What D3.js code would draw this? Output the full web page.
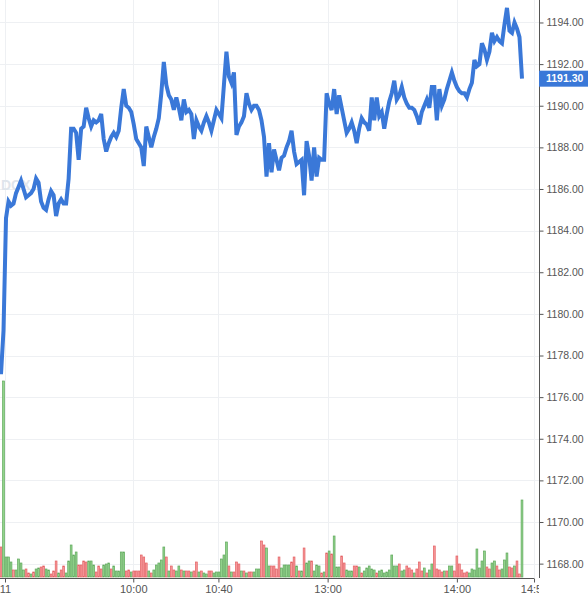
<!DOCTYPE html>
<html>
<head>
<meta charset="utf-8">
<script src="https://cdn.jsdelivr.net/npm/d3@7"></script>
<style>
  body { margin: 0; background: #fff; }
  svg { display: block; font-family: "Liberation Sans", Arial, sans-serif; }
</style>
</head>
<body>
<svg width="588" height="596"></svg>
<script>
// price per bar (intraday)
const prices = [
  1177.1, 1179.2, 1184.6, 1185.4, 1185.2, 1185.3, 1185.8, 1186.1, 1186.4, 1186.0,
  1185.6, 1185.7, 1185.8, 1186.0, 1186.5, 1186.3, 1185.4, 1185.1, 1185.0, 1185.5,
  1185.9, 1185.7, 1184.7, 1185.3, 1185.5, 1185.3, 1185.3, 1186.5, 1188.9, 1188.9,
  1188.7, 1187.4, 1188.9, 1189.0, 1189.9, 1189.4, 1189.0, 1189.3, 1189.2, 1189.3,
  1189.6, 1188.4, 1187.8, 1188.2, 1188.5, 1188.7, 1188.5, 1188.8, 1189.9, 1190.8,
  1190.0, 1189.9, 1189.7, 1189.1, 1188.4, 1188.2, 1188.0, 1187.1, 1189.0, 1188.5,
  1188.0, 1188.5, 1188.9, 1189.4, 1190.6, 1192.1, 1191.0, 1190.5, 1190.3, 1189.8,
  1190.4, 1189.9, 1189.3, 1190.3, 1189.7, 1189.8, 1189.6, 1188.4, 1189.3, 1189.0,
  1188.8, 1189.2, 1189.5, 1189.2, 1188.8, 1189.3, 1189.8, 1189.6, 1189.4, 1191.0,
  1192.6, 1191.4, 1191.1, 1191.6, 1188.6, 1189.0, 1189.2, 1189.5, 1190.6, 1190.1,
  1189.8, 1190.0, 1190.0, 1189.8, 1189.3, 1188.5, 1186.6, 1188.2, 1186.8, 1187.9,
  1187.4, 1186.9, 1187.5, 1187.6, 1188.0, 1188.3, 1188.8, 1187.8, 1187.2, 1187.3,
  1187.4, 1185.7, 1188.3, 1187.6, 1186.4, 1188.0, 1186.6, 1187.5, 1187.4, 1187.4,
  1190.6, 1190.1, 1189.8, 1190.8, 1189.6, 1190.5, 1189.9, 1189.3, 1188.7, 1188.9,
  1189.2, 1188.8, 1188.2, 1188.9, 1189.4, 1189.2, 1189.1, 1188.8, 1190.4, 1189.3,
  1190.4, 1189.5, 1189.7, 1188.9, 1189.6, 1190.2, 1190.6, 1191.2, 1190.3, 1190.5,
  1190.9, 1190.4, 1190.1, 1189.9, 1189.9, 1189.8, 1189.5, 1189.1, 1189.7, 1190.0,
  1190.3, 1189.9, 1190.9, 1190.9, 1189.3, 1190.8, 1190.0, 1190.3, 1190.8, 1191.2,
  1191.6, 1191.2, 1190.9, 1190.7, 1190.6, 1190.6, 1190.4, 1190.8, 1191.1, 1192.2,
  1191.9, 1192.0, 1193.0, 1192.7, 1192.2, 1192.6, 1193.5, 1193.1, 1193.3, 1193.1,
  1193.0, 1193.9, 1194.7, 1193.6, 1193.5, 1194.0, 1193.7, 1193.3, 1191.3
];

// volume per bar
const volumes = [
  30, 196, 20, 20, 15, 7, 7, 18, 14, 7,
  8, 4, 3, 5, 8, 9, 10, 11, 8, 7,
  3, 6, 16, 4, 7, 11, 4, 16, 32, 22,
  25, 12, 12, 16, 15, 16, 16, 12, 5, 11,
  8, 12, 13, 14, 8, 11, 6, 6, 25, 25,
  6, 7, 5, 6, 6, 6, 22, 20, 14, 6,
  4, 7, 12, 14, 17, 30, 20, 6, 11, 7,
  6, 11, 7, 6, 6, 6, 5, 6, 15, 5,
  6, 4, 3, 6, 6, 4, 5, 5, 18, 22,
  35, 11, 5, 5, 15, 13, 6, 6, 4, 5,
  5, 5, 8, 8, 36, 32, 29, 11, 11, 11,
  8, 20, 9, 12, 12, 12, 15, 20, 11, 6,
  6, 29, 14, 16, 16, 6, 12, 11, 4, 5,
  24, 26, 23, 41, 10, 10, 21, 14, 7, 6,
  6, 11, 11, 10, 4, 6, 9, 11, 8, 7,
  4, 6, 7, 4, 5, 7, 22, 11, 11, 13,
  6, 7, 11, 9, 7, 4, 8, 15, 6, 9,
  4, 7, 13, 31, 8, 7, 5, 6, 6, 11,
  11, 6, 21, 13, 7, 4, 5, 4, 8, 7,
  28, 9, 16, 26, 10, 8, 14, 16, 11, 7,
  8, 17, 24, 10, 9, 11, 16, 3, 77
];

// 1 = up bar (green), -1 = down bar (red)
const volDir = [
  -1, 1, 1, 1, 1, -1, 1, 1, 1, 1,
  -1, -1, 1, -1, 1, 1, -1, -1, 1, 1,
  -1, -1, -1, 1, -1, -1, 1, 1, 1, 1,
  1, -1, -1, -1, -1, 1, 1, 1, -1, -1,
  -1, 1, 1, 1, -1, 1, 1, 1, 1, 1,
  -1, -1, 1, -1, -1, -1, -1, -1, -1, 1,
  -1, 1, 1, 1, 1, 1, -1, 1, -1, -1,
  1, 1, -1, 1, -1, -1, 1, -1, -1, 1,
  -1, 1, 1, -1, -1, 1, 1, 1, 1, 1,
  1, -1, 1, -1, -1, -1, 1, -1, 1, -1,
  -1, 1, 1, 1, -1, -1, 1, 1, -1, -1,
  -1, -1, 1, 1, 1, 1, -1, -1, 1, -1,
  1, -1, 1, 1, -1, 1, 1, 1, -1, 1,
  -1, 1, -1, 1, 1, 1, -1, -1, 1, 1,
  1, -1, -1, 1, -1, 1, 1, 1, 1, 1,
  -1, 1, 1, 1, 1, 1, 1, 1, 1, -1,
  1, 1, -1, -1, -1, 1, -1, -1, -1, 1,
  -1, 1, 1, -1, -1, -1, -1, 1, -1, 1,
  1, -1, -1, -1, -1, -1, -1, 1, 1, 1,
  1, 1, 1, 1, -1, -1, 1, 1, -1, -1,
  1, 1, 1, -1, -1, 1, -1, -1, 1
];

const priceTicks = [1168, 1170, 1172, 1174, 1176, 1178, 1180, 1182, 1184, 1186, 1188, 1190, 1192, 1194];
const timeTickPos = [1.6, 52.8, 86.8, 130.4, 182, 212.8];
const timeTickLabels = ['11', '10:00', '10:40', '13:00', '14:00', '14:50'];
const lastPrice = 1191.30;

const WIDTH = 588;
const HEIGHT = 596;
const PLOT_W = 539;
const PLOT_H = 578;

const svg = d3.select('svg');

const x = d3.scaleLinear().domain([0, prices.length - 1]).range([1, 522]);
const y = d3.scaleLinear().domain([1167.31, 1195.08]).range([PLOT_H, 0]);
const yVol = d3.scaleLinear().domain([0, 196]).range([577, 381]);

svg.append('defs').append('clipPath').attr('id', 'plot-clip')
    .append('rect').attr('x', 0).attr('y', 0).attr('width', PLOT_W).attr('height', PLOT_H);

// grid
const grid = svg.append('g');
grid.selectAll('.hgrid')
    .data(priceTicks)
    .enter()
    .append('line')
    .attr('x1', 0).attr('x2', PLOT_W)
    .attr('y1', d => Math.round(y(d)) + 0.5).attr('y2', d => Math.round(y(d)) + 0.5)
    .attr('stroke', '#eef0f3');
grid.selectAll('.vgrid')
    .data(timeTickPos)
    .enter()
    .append('line')
    .attr('x1', d => Math.round(x(d)) + 0.5).attr('x2', d => Math.round(x(d)) + 0.5)
    .attr('y1', 0).attr('y2', PLOT_H)
    .attr('stroke', '#eef0f3');

// faint logo at left edge, under the line
svg.append('text')
    .attr('x', 1).attr('y', 190)
    .attr('font-size', 14)
    .attr('font-weight', 'bold')
    .attr('fill', '#dfe5ec')
    .text('DCX');

const plot = svg.append('g').attr('clip-path', 'url(#plot-clip)');

// volume bars
plot.selectAll('.vol')
    .data(volumes)
    .enter()
    .append('rect')
    .attr('x', (d, i) => x(i) - 0.9)
    .attr('width', 1.8)
    .attr('y', d => yVol(d))
    .attr('height', d => 577 - yVol(d))
    .attr('fill', (d, i) => volDir[i] > 0 ? '#92d38c' : '#f7999b')
    .attr('stroke', (d, i) => volDir[i] > 0 ? '#5fa85b' : '#e35f62')
    .attr('stroke-width', 0.7);

// price line
const line = d3.line()
    .x((d, i) => x(i))
    .y(d => y(d));

plot.append('path')
    .datum(prices)
    .attr('d', line)
    .attr('fill', 'none')
    .attr('stroke', '#3a78d8')
    .attr('stroke-width', 4);

// right axis
const yAxis = svg.append('g')
    .attr('transform', `translate(${PLOT_W + 0.5}, 0)`)
    .call(d3.axisRight(y).tickValues(priceTicks).tickFormat(d3.format('.2f')).tickSize(4).tickSizeOuter(0));
yAxis.select('.domain').attr('stroke', '#555').attr('d', `M0,0V${PLOT_H}`);
yAxis.selectAll('.tick line').attr('stroke', '#555');
yAxis.selectAll('.tick text')
    .attr('x', 7)
    .attr('fill', '#555')
    .attr('font-size', 10.5)
    .attr('font-family', '"Liberation Sans", Arial, sans-serif');

// last price marker
const lp = svg.append('g').attr('transform', `translate(${PLOT_W}, ${y(lastPrice)})`);
lp.append('rect')
    .attr('x', 0).attr('y', -8)
    .attr('width', WIDTH - PLOT_W).attr('height', 16)
    .attr('fill', '#3a78d8');
lp.append('text')
    .attr('x', 7).attr('dy', '0.35em')
    .attr('fill', '#fff')
    .attr('font-size', 10.5)
    .attr('font-weight', 'bold')
    .text(d3.format('.2f')(lastPrice));

// bottom axis
svg.append('defs').append('clipPath').attr('id', 'xaxis-clip')
    .append('rect').attr('x', -5).attr('y', 0).attr('width', PLOT_W + 5).attr('height', HEIGHT);
const xAxis = svg.append('g')
    .attr('clip-path', 'url(#xaxis-clip)')
    .append('g')
    .attr('transform', `translate(0, ${PLOT_H + 0.5})`)
    .call(d3.axisBottom(x).tickValues(timeTickPos).tickFormat((d, i) => timeTickLabels[i]).tickSize(4).tickSizeOuter(0));
xAxis.select('.domain').attr('stroke', '#555').attr('d', `M0,0H${x(timeTickPos[timeTickPos.length - 1])}`);
xAxis.selectAll('.tick line').attr('stroke', '#555');
xAxis.selectAll('.tick text')
    .attr('y', 7)
    .attr('fill', '#555')
    .attr('font-size', 11)
    .attr('font-family', '"Liberation Sans", Arial, sans-serif');
</script>
</body>
</html>
